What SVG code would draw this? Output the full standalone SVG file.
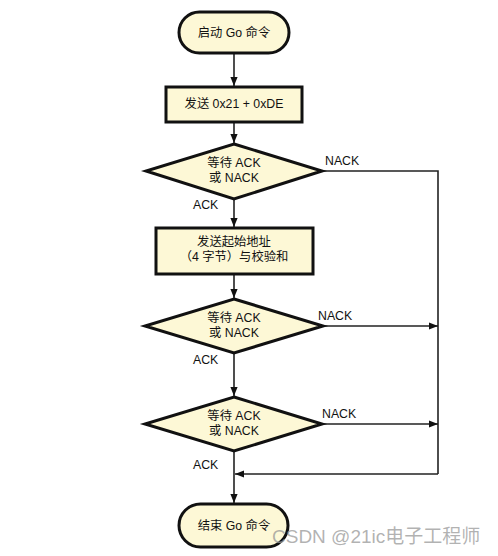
<svg xmlns="http://www.w3.org/2000/svg" width="498" height="556" viewBox="0 0 498 556">
<style>
.s{fill:#fdf8d6;stroke:#111;stroke-width:3}
.c{fill:none;stroke:#222;stroke-width:1.6}
text{font-family:"Liberation Sans","Noto Sans CJK SC",sans-serif;font-size:12.3px;fill:#111}
.m{text-anchor:middle}
.wm{font-size:19px;fill:#999;fill-opacity:0.75}
</style>
<defs>
<marker id="a" viewBox="0 0 10 8" refX="10" refY="4" markerWidth="9" markerHeight="7.5" markerUnits="userSpaceOnUse" orient="auto"><path d="M0,0L10,4L0,8z" fill="#111"/></marker>
</defs>
<rect width="498" height="556" fill="#fff"/>
<g id="connectors">
<path class="c" d="M234,53V86" marker-end="url(#a)"/>
<path class="c" d="M234,122V143" marker-end="url(#a)"/>
<path class="c" d="M234,199V227" marker-end="url(#a)"/>
<path class="c" d="M234,274V298" marker-end="url(#a)"/>
<path class="c" d="M234,353V396" marker-end="url(#a)"/>
<path class="c" d="M234,451V503" marker-end="url(#a)"/>
<path class="c" d="M322,171H438V474"/>
<path class="c" d="M323,326H438" marker-end="url(#a)"/>
<path class="c" d="M322,424H438" marker-end="url(#a)"/>
<path class="c" d="M438,474H235" marker-end="url(#a)"/>
<text x="325" y="165">NACK</text>
<text x="318" y="320">NACK</text>
<text x="322" y="418">NACK</text>
<text x="193" y="209">ACK</text>
<text x="193" y="364">ACK</text>
<text x="193" y="469">ACK</text>
</g>
<g id="start">
<rect class="s" x="179" y="12" width="110" height="41" rx="20.5"/>
<text class="m" x="234" y="37">启动 Go 命令</text>
</g>
<g id="send1">
<rect class="s" x="166" y="87" width="136" height="35"/>
<text class="m" x="234" y="108">发送 0x21 + 0xDE</text>
</g>
<g id="wait1">
<polygon class="s" points="234,144 322,171 234,199 146,171"/>
<text class="m" x="234" y="167">等待 ACK</text>
<text class="m" x="234" y="182">或 NACK</text>
</g>
<g id="send2">
<rect class="s" x="156" y="228" width="157" height="46"/>
<text class="m" x="234" y="246">发送起始地址</text>
<text class="m" x="234" y="261">（4 字节）与校验和</text>
</g>
<g id="wait2">
<polygon class="s" points="234,299 323,326 234,353 145,326"/>
<text class="m" x="234" y="322">等待 ACK</text>
<text class="m" x="234" y="337">或 NACK</text>
</g>
<g id="wait3">
<polygon class="s" points="234,397 322,424 234,451 145,424"/>
<text class="m" x="234" y="420">等待 ACK</text>
<text class="m" x="234" y="435">或 NACK</text>
</g>
<g id="end">
<rect class="s" x="179" y="504" width="109" height="43" rx="21.5"/>
<text class="m" x="234" y="530">结束 Go 命令</text>
</g>
<text class="wm" x="272" y="543">CSDN @21ic电子工程师</text>
</svg>
